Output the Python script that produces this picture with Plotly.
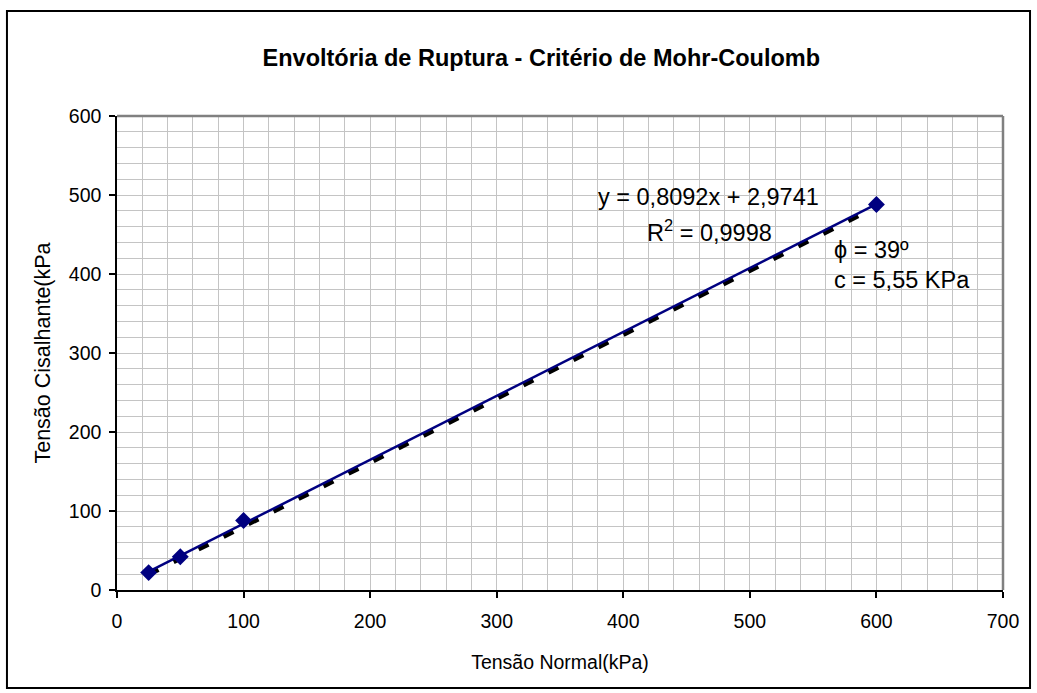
import plotly.graph_objects as go

# Data
normal_stress = [25, 50, 100, 600]
shear_stress = [22, 42, 88, 488]

slope = 0.8092
intercept = 2.9741
fit_x = [25, 600]

envelope_x = [25, 600]
envelope_y = [19.5, 485]

x_ticks = [0, 100, 200, 300, 400, 500, 600, 700]
y_ticks = [0, 100, 200, 300, 400, 500, 600]

fit_y = [slope * v + intercept for v in fit_x]

FONT = "Liberation Sans, Arial, sans-serif"

fig = go.Figure()
fig.add_trace(go.Scatter(x=envelope_x, y=envelope_y, mode="lines",
                         line=dict(color="black", width=4.5, dash="11px,17px"),
                         showlegend=False, hoverinfo="skip"))
fig.add_trace(go.Scatter(x=fit_x, y=fit_y, mode="lines",
                         line=dict(color="#000080", width=2.5),
                         showlegend=False))
fig.add_trace(go.Scatter(x=normal_stress, y=shear_stress, mode="markers",
                         marker=dict(symbol="diamond", size=13, color="#000080"),
                         showlegend=False))

grid = "#c4c4c4"
tickfont = dict(size=19.5, color="black", family=FONT)
fig.update_xaxes(range=[0, 700], tickvals=x_ticks, ticks="outside", ticklen=6,
                 tickcolor="black", tickwidth=1.5, showline=True, linecolor="black", linewidth=1.5,
                 showgrid=True, gridcolor=grid, gridwidth=1,
                 minor=dict(dtick=20, showgrid=True, gridcolor=grid, gridwidth=1),
                 zeroline=False, tickfont=tickfont, ticklabelstandoff=7,
                 title=dict(text="Tensão Normal(kPa)", font=dict(size=19.5, color="black", family=FONT),
                            standoff=24))
fig.update_yaxes(range=[0, 600], tickvals=y_ticks, ticks="outside", ticklen=6,
                 tickcolor="black", tickwidth=1.5, showline=True, linecolor="black", linewidth=1.5,
                 showgrid=True, gridcolor=grid, gridwidth=1,
                 minor=dict(dtick=20, showgrid=True, gridcolor=grid, gridwidth=1),
                 zeroline=False, tickfont=tickfont, ticklabelstandoff=4,
                 title=dict(text="Tensão Cisalhante(kPa", font=dict(size=21.5, color="black", family=FONT),
                            standoff=12))

ann_font = dict(size=23.5, color="black", family=FONT)
fig.update_layout(
    width=1037, height=693,
    margin=dict(l=117, r=34, t=116, b=103),
    paper_bgcolor="white", plot_bgcolor="white",
    font=dict(family=FONT, color="black"),
    title=dict(text="<b>Envoltória de Ruptura - Critério de Mohr-Coulomb</b>",
               x=0.522, xanchor="center", y=0.917, yanchor="middle",
               font=dict(size=23.5, color="black", family=FONT)),
    shapes=[
        dict(type="line", xref="paper", yref="paper", x0=0, x1=1, y0=1, y1=1,
             line=dict(color="#808080", width=2.5)),
        dict(type="line", xref="paper", yref="paper", x0=1, x1=1, y0=0, y1=1,
             line=dict(color="#808080", width=2.5)),
        dict(type="rect", xref="paper", yref="paper", x0=-0.1242, x1=1.0305,
             y0=-0.2068, y1=1.2215, line=dict(color="black", width=2)),
    ],
    annotations=[
        dict(x=0.5406, y=0.829, xref="paper", yref="paper", text="y = 0,8092x + 2,9741",
             xanchor="left", yanchor="middle", showarrow=False, font=ann_font),
        dict(x=0.5959, y=0.757, xref="paper", yref="paper", text="R<sup>2</sup> = 0,9998",
             xanchor="left", yanchor="middle", showarrow=False, font=ann_font),
        dict(x=0.807, y=0.717, xref="paper", yref="paper", text="ϕ = 39º",
             xanchor="left", yanchor="middle", showarrow=False, font=ann_font),
        dict(x=0.807, y=0.654, xref="paper", yref="paper", text="c = 5,55 KPa",
             xanchor="left", yanchor="middle", showarrow=False, font=ann_font),
    ],
)

fig.write_html("out.html", config={"displayModeBar": False},
               post_script="document.body.style.margin='0px';")
